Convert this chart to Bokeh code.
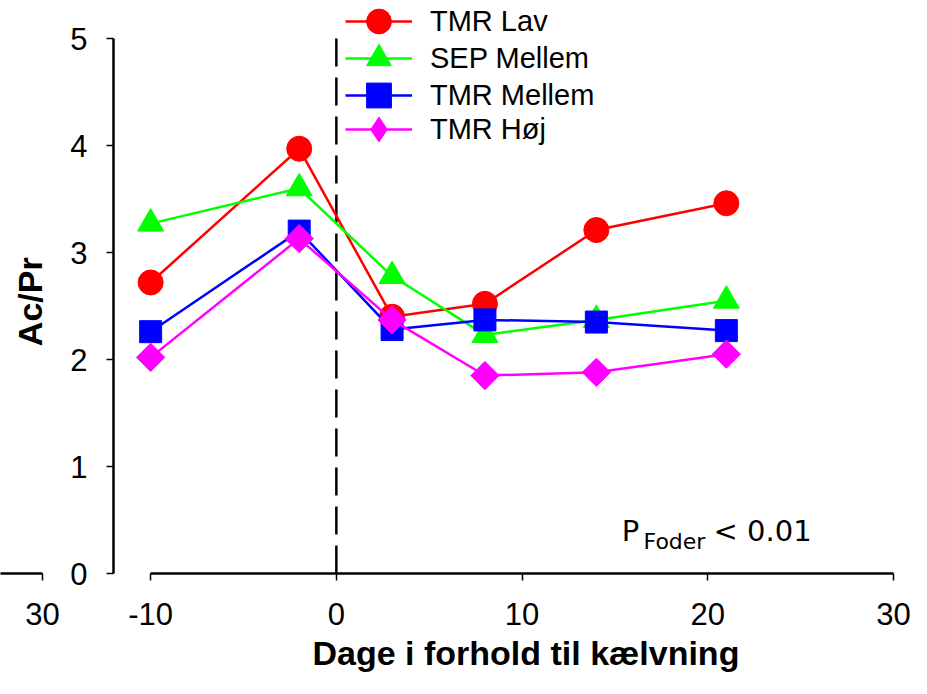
from bokeh.plotting import figure
from bokeh.layouts import row
from bokeh.models import (Range1d, FixedTicker, Legend, LegendItem, Label, Title)
from bokeh.embed import file_html
from bokeh.resources import INLINE
import math

# ---------------- data ----------------
days = [-10, -2, 3, 8, 14, 21]
tmr_lav = [2.72, 3.97, 2.40, 2.52, 3.21, 3.46]
sep_mellem = [3.27, 3.60, 2.78, 2.23, 2.37, 2.55]
tmr_mellem = [2.26, 3.20, 2.28, 2.37, 2.35, 2.27]
tmr_hoj = [2.02, 3.13, 2.37, 1.85, 1.88, 2.05]

series_names = ["TMR Lav", "SEP Mellem", "TMR Mellem", "TMR Høj"]
series_values = [tmr_lav, sep_mellem, tmr_mellem, tmr_hoj]
colors = ["#FF0000", "#00FF00", "#0000FF", "#FF00FF"]
markers = ["circle", "triangle", "square", "square"]
legend_markers = ["circle", "triangle", "square", "diamond"]
marker_sizes = [25, 26, 22, 20]
marker_angles = [0, 0, 0, math.pi / 4]

calving_day = 0
x_ticks = [-10, 0, 10, 20, 30]
y_ticks = [0, 1, 2, 3, 4, 5]
x_label = "Dage i forhold til kælvning"
y_label = "Ac/Pr"
neighbour_ticks = [30]           # last tick of the neighbouring panel (left edge)
FONT = "Liberation Sans"

X0, X1 = -12, 30
PX_PER_UNIT = 780 / (X1 - X0)
H = 678
BOTTOM = 105
FRAME_H = H - BOTTOM
Y_TOP = y_ticks[-1] * FRAME_H / (FRAME_H - 38)   # leaves 38 px above the axis end


def style_axis(ax):
    ax.axis_line_width = 2.5
    ax.axis_line_color = "black"
    ax.major_tick_line_width = 1.5
    ax.major_tick_line_color = "black"
    ax.major_tick_out = 7
    ax.major_tick_in = 0
    ax.minor_tick_line_color = None
    ax.major_label_text_font = FONT
    ax.major_label_text_font_size = "31px"
    ax.major_label_text_color = "black"


# ---------------- left strip: neighbour panel's axis end + y label ----------------
left_w, left_frame = 64, 50
lx0 = neighbour_ticks[-1] - 42 / PX_PER_UNIT
left = figure(
    output_backend="svg", toolbar_location=None,
    width=left_w, height=H,
    min_border_left=0, min_border_right=left_w - left_frame,
    min_border_top=0, min_border_bottom=BOTTOM,
    x_range=Range1d(lx0, lx0 + left_frame / PX_PER_UNIT),
    y_range=Range1d(y_ticks[0], Y_TOP),
    background_fill_color="white", border_fill_color="white",
)
left.outline_line_color = None
left.grid.visible = False
left.yaxis.visible = False
style_axis(left.xaxis[0])
left.xaxis[0].ticker = FixedTicker(ticks=neighbour_ticks)
left.xaxis[0].bounds = (lx0 - 1, neighbour_ticks[-1])
left.xaxis[0].major_label_standoff = 22
left.add_layout(Label(x=lx0 + 29 / PX_PER_UNIT, y=2.54, text=y_label,
                      angle=math.pi / 2, text_align="center",
                      text_baseline="middle", text_font=FONT,
                      text_font_size="34px", text_font_style="bold",
                      text_color="black"))

# ---------------- main chart ----------------
p = figure(
    output_backend="svg", toolbar_location=None,
    width=911 - left_w, height=H,
    min_border_left=113 - left_w, min_border_right=18,
    min_border_top=0, min_border_bottom=BOTTOM,
    x_range=Range1d(X0, X1), y_range=Range1d(y_ticks[0], Y_TOP),
    background_fill_color="white", border_fill_color="white",
)
p.outline_line_color = None
p.grid.visible = False
style_axis(p.xaxis[0])
style_axis(p.yaxis[0])

p.xaxis[0].ticker = FixedTicker(ticks=x_ticks)
p.xaxis[0].bounds = (x_ticks[0], x_ticks[-1])
p.xaxis[0].major_label_overrides = {t: str(t) for t in x_ticks}
p.xaxis[0].major_label_standoff = 22

p.yaxis[0].ticker = FixedTicker(ticks=y_ticks)
p.yaxis[0].bounds = (y_ticks[0], y_ticks[-1])
p.yaxis[0].major_label_standoff = 19

# x axis title, set a little right of the frame centre as in the original
p.add_layout(Title(text=x_label, align="left", offset=199, standoff=8,
                   text_font=FONT, text_font_size="34px",
                   text_font_style="bold", text_color="black"), "below")

# calving day reference line, spanning the y axis
p.segment(x0=[calving_day], y0=[y_ticks[0]], x1=[calving_day], y1=[y_ticks[-1]],
          line_color="black", line_width=2.5, line_dash="28 11")

legend_bottoms = [521, 484, 447, 413]
for name, vals, col, mk, lmk, ms, ang, lb in zip(
        series_names, series_values, colors, markers, legend_markers,
        marker_sizes, marker_angles, legend_bottoms):
    lr = p.line(days, vals, line_color=col, line_width=2.5)
    legend_r = [lr]
    if lmk != mk:
        # smaller true diamond hidden under the rotated square; gives the legend its shape
        legend_r.append(p.scatter(days, vals, marker=lmk, size=ms,
                                  fill_color=col, line_color=col))
    sr = p.scatter(days, vals, marker=mk, size=ms, angle=ang,
                   fill_color=col, line_color=col)
    if lmk == mk:
        legend_r.append(sr)
    lg = Legend(items=[LegendItem(label=name, renderers=legend_r)],
                location=(232, lb), orientation="vertical",
                padding=0, margin=0, spacing=0,
                glyph_width=67, glyph_height=62, label_height=37,
                label_standoff=18,
                label_text_font=FONT, label_text_font_size="29px",
                label_text_color="black",
                border_line_color=None, background_fill_alpha=0)
    p.add_layout(lg, "center")

# P-value note
p.add_layout(Label(x=15.37, y=0.40, text="P", text_font="DejaVu Sans",
                   text_font_size="29px", text_color="black",
                   text_baseline="alphabetic"))
p.add_layout(Label(x=16.54, y=0.30, text="Foder", text_font="DejaVu Sans",
                   text_font_size="22px", text_color="black",
                   text_baseline="alphabetic"))
p.add_layout(Label(x=20.31, y=0.40, text="< 0.01", text_font="DejaVu Sans",
                   text_font_size="29px", text_color="black",
                   text_baseline="alphabetic"))

layout = row(left, p)
open("out.html", "w").write(file_html(layout, INLINE))
